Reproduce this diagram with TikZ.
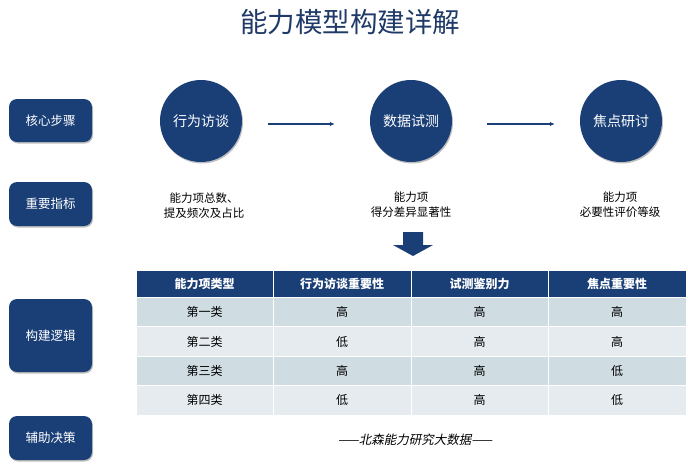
\documentclass[tikz,border=0pt]{standalone}
\usepackage{fontspec}
\setmainfont{Noto Sans CJK SC}
\newfontfamily\slantcjk{Noto Sans CJK SC}[FakeSlant=0.2]
\usetikzlibrary{shadows,arrows.meta}
\definecolor{navy}{HTML}{1A3F77}
\definecolor{titlec}{HTML}{1F3A68}
\definecolor{rowA}{HTML}{CFDCE2}
\definecolor{rowB}{HTML}{E5EBEE}
\tikzset{
  myshadow/.style={drop shadow={shadow xshift=1pt, shadow yshift=-1.5pt, opacity=0.25, fill=black}},
  sidebox/.style={fill=navy, rounded corners=8pt, text=white, minimum width=83pt,
    font=\fontsize{12.5}{14}\selectfont, inner sep=0pt, myshadow},
  stepcircle/.style={circle, fill=navy, text=white, minimum size=82pt, inner sep=0pt,
    font=\fontsize{14}{16}\selectfont, myshadow},
  indtext/.style={align=center, font=\fontsize{11.5}{15}\selectfont, text=black},
  flowarrow/.style={draw=navy, line width=1.6pt, -{Latex[length=5pt,width=4.5pt]}},
  headcell/.style={fill=navy, draw=white, line width=1pt, text=white, inner sep=0pt,
    font=\fontsize{12}{13}\selectfont\bfseries},
  bodycell/.style={draw=white, line width=1pt, text=black, inner sep=0pt,
    font=\fontsize{12}{13}\selectfont},
}
\begin{document}
\begin{tikzpicture}[x=1pt,y=-1pt]
\useasboundingbox[fill=white] (0,0) rectangle (688,464);

% title
\node[text=titlec, font=\fontsize{27.5}{30}\selectfont] (title) at (350,22) {能力模型构建详解};

% side labels
\node[sidebox, minimum height=43pt] (s1) at (50.5,120.5) {核心步骤};
\node[sidebox, minimum height=44pt] (s2) at (50.5,204) {重要指标};
\node[sidebox, minimum height=73pt] (s3) at (50.5,335.5) {构建逻辑};
\node[sidebox, minimum height=44pt] (s4) at (50.5,438) {辅助决策};

% steps
\node[stepcircle] (c1) at (201,121) {行为访谈};
\node[stepcircle] (c2) at (411,121) {数据试测};
\node[stepcircle] (c3) at (621,121) {焦点研讨};

\draw[flowarrow, shorten <=26pt, shorten >=35pt] ([yshift=-3pt]c1.east) -- ([yshift=-3pt]c2.west);
\draw[flowarrow, shorten <=35pt, shorten >=25pt] ([yshift=-3pt]c2.east) -- ([yshift=-3pt]c3.west);

% indicators
\node[indtext] (i1) at (204,206) {能力项总数、\\提及频次及占比};
\node[indtext] (i2) at (411,205) {能力项\\得分差异显著性};
\node[indtext] (i3) at (620,205) {能力项\\必要性评价等级};

% down arrow
\fill[navy] (403,232) -- (423,232) -- (423,245) -- (433,245) -- (413,256) -- (393,245) -- (403,245) -- cycle;

% table header
\foreach \t/\x/\w [count=\j] in {能力项类型/204.5/137, 行为访谈重要性/342/138, 试测鉴别力/479.5/137, 焦点重要性/617/138} {
  \node[headcell, minimum width=\w pt, minimum height=27.5pt] (h\j) at (\x,283.75) {\t};
}
% table body
\foreach \a/\b/\c/\d [count=\i] in {第一类/高/高/高, 第二类/低/高/高, 第三类/高/高/低, 第四类/低/高/低} {
  \pgfmathsetmacro\yy{297.5+(\i-0.5)*29.4}
  \ifodd\i\def\rc{rowA}\else\def\rc{rowB}\fi
  \node[bodycell, fill=\rc, minimum width=137pt, minimum height=29.4pt] (r\i c1) at (204.5,\yy) {\a};
  \node[bodycell, fill=\rc, minimum width=138pt, minimum height=29.4pt] (r\i c2) at (342,\yy) {\b};
  \node[bodycell, fill=\rc, minimum width=137pt, minimum height=29.4pt] (r\i c3) at (479.5,\yy) {\c};
  \node[bodycell, fill=\rc, minimum width=138pt, minimum height=29.4pt] (r\i c4) at (617,\yy) {\d};
}

% footer
\node[font=\fontsize{12.5}{14}\selectfont\slantcjk, text=black] (foot) at (415,440) {——北森能力研究大数据——};
\end{tikzpicture}
\end{document}
